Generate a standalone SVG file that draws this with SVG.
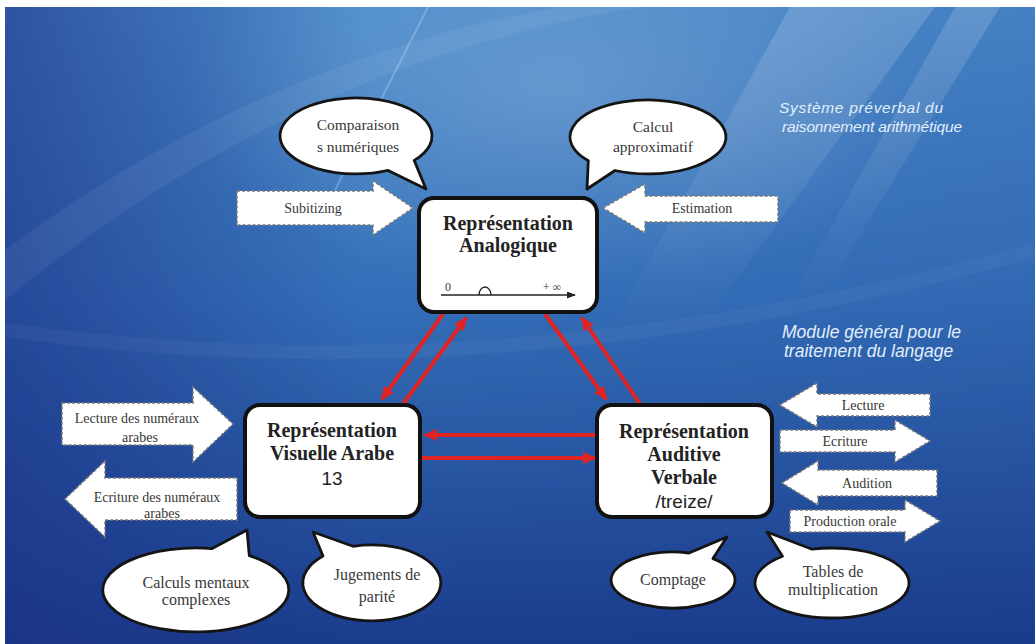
<svg xmlns="http://www.w3.org/2000/svg" width="1035" height="644" viewBox="0 0 1035 644">
<defs>
  <linearGradient id="bg" x1="0" y1="0" x2="0" y2="1">
    <stop offset="0" stop-color="#4a8bcb"/>
    <stop offset="0.45" stop-color="#3470b9"/>
    <stop offset="1" stop-color="#1a3c8c"/>
  </linearGradient>
  <linearGradient id="bgl" x1="0" y1="0" x2="1" y2="0">
    <stop offset="0" stop-color="#1c2f85" stop-opacity="0.6"/>
    <stop offset="0.35" stop-color="#1c2f85" stop-opacity="0"/>
    <stop offset="1" stop-color="#1c2f85" stop-opacity="0.12"/>
  </linearGradient>
  <radialGradient id="glow" cx="0.5" cy="0.5" r="0.5">
    <stop offset="0" stop-color="#ffffff" stop-opacity="0.18"/>
    <stop offset="1" stop-color="#ffffff" stop-opacity="0"/>
  </radialGradient>
  <linearGradient id="wedge" x1="0" y1="0" x2="0" y2="1">
    <stop offset="0" stop-color="#ffffff" stop-opacity="0.16"/>
    <stop offset="1" stop-color="#ffffff" stop-opacity="0"/>
  </linearGradient>
  <marker id="rh" markerUnits="userSpaceOnUse" markerWidth="14" markerHeight="12" refX="12" refY="6" orient="auto">
    <path d="M0,0 L14,6 L0,12 z" fill="#e02424"/>
  </marker>
  <marker id="bh" markerUnits="userSpaceOnUse" markerWidth="9" markerHeight="7" refX="8" refY="3.5" orient="auto">
    <path d="M0,0 L9,3.5 L0,7 z" fill="#222"/>
  </marker>
</defs>
<style>
  .box{fill:#fff;stroke:#111;stroke-width:4}
  .bub{fill:#fff;stroke:#141414;stroke-width:2.8;stroke-linejoin:round}
  .da{fill:#fff;stroke:#7a7a7a;stroke-width:1.5;stroke-dasharray:3 2}
  .t{font-family:"Liberation Serif",serif;fill:#383838;text-anchor:middle}
  .bt{font-size:15.5px}
  .at{font-size:14px}
  .ti{font-family:"Liberation Serif",serif;font-weight:bold;font-size:20px;fill:#232323;text-anchor:middle}
  .sn{font-family:"Liberation Sans",sans-serif;font-size:19px;fill:#232323;text-anchor:middle}
  .wi{font-family:"Liberation Sans",sans-serif;font-style:italic;font-size:15.5px;fill:#e2eefa}
  .wm{font-size:17.5px}
  .red{stroke:#e02424;stroke-width:4;fill:none;marker-end:url(#rh)}
</style>

<!-- background -->
<rect x="0" y="0" width="1035" height="644" fill="#ffffff"/>
<rect x="5" y="7" width="1030" height="637" fill="url(#bg)"/>
<rect x="5" y="7" width="1030" height="637" fill="url(#bgl)"/>
<ellipse cx="560" cy="90" rx="380" ry="200" fill="url(#glow)"/>
<polygon points="790,7 935,7 700,330 610,330" fill="url(#wedge)"/>
<polygon points="955,7 1000,7 820,300 790,300" fill="url(#wedge)"/>
<line x1="428" y1="7" x2="330" y2="200" stroke="#ffffff" stroke-opacity="0.22" stroke-width="2"/>
<path d="M5,300 Q300,60 640,7 L560,7 Q260,60 5,250 Z" fill="#ffffff" fill-opacity="0.06"/>
<path d="M5,330 Q500,400 1035,250" fill="none" stroke="#ffffff" stroke-opacity="0.04" stroke-width="14"/>

<!-- captions -->
<g id="caption-preverbal">
  <text class="wi" x="779" y="113" textLength="164">Système préverbal du</text>
  <text class="wi" x="782" y="132" textLength="180">raisonnement arithmétique</text>
</g>
<g id="caption-module">
  <text class="wi wm" x="782" y="338">Module général pour le</text>
  <text class="wi wm" x="784" y="357">traitement du langage</text>
</g>

<!-- connectors -->
<g id="connectors">
  <line class="red" x1="443" y1="314" x2="382" y2="399"/>
  <line class="red" x1="403" y1="404" x2="466" y2="318"/>
  <line class="red" x1="545" y1="314" x2="606" y2="399"/>
  <line class="red" x1="640" y1="404" x2="582" y2="318"/>
  <line class="red" x1="597" y1="435" x2="425" y2="435"/>
  <line class="red" x1="421" y1="458" x2="595" y2="458"/>
</g>

<!-- main nodes -->
<g id="node-analogique">
  <rect class="box" x="419" y="198" width="178" height="114" rx="15"/>
  <text class="ti" x="508" y="230">Représentation</text>
  <text class="ti" x="508" y="252">Analogique</text>
  <line x1="441" y1="295" x2="575" y2="295" stroke="#222" stroke-width="1.5" marker-end="url(#bh)"/>
  <text class="t" x="448" y="291" font-size="12">0</text>
  <path d="M479,295 A6 8 0 0 1 491,295" fill="none" stroke="#222" stroke-width="1.3"/>
  <text class="t" x="552" y="291" font-size="12">+ ∞</text>
</g>
<g id="node-visuelle">
  <rect class="box" x="245" y="405" width="175" height="112" rx="15"/>
  <text class="ti" x="332" y="437">Représentation</text>
  <text class="ti" x="332" y="460">Visuelle Arabe</text>
  <text class="sn" x="332" y="485">13</text>
</g>
<g id="node-auditive">
  <rect class="box" x="597" y="405" width="175" height="112" rx="15"/>
  <text class="ti" x="684" y="438">Représentation</text>
  <text class="ti" x="684" y="461">Auditive</text>
  <text class="ti" x="684" y="484">Verbale</text>
  <text class="sn" x="684" y="508">/treize/</text>
</g>

<!-- speech bubbles -->
<g id="bubble-comparaisons">
  <path class="bub" d="M414.2,160.4 L426,189 L388.1,170.4 A76 38 0 1 1 414.2,160.4 Z"/>
  <text class="t bt" x="358" y="130">Comparaison</text>
  <text class="t bt" x="358" y="152">s numériques</text>
</g>
<g id="bubble-calcul-approx">
  <path class="bub" d="M615,170.5 L587,189 L588.3,160.8 A78 37 0 1 1 615,170.5 Z"/>
  <text class="t bt" x="653" y="132">Calcul</text>
  <text class="t bt" x="653" y="152">approximatif</text>
</g>
<g id="bubble-calculs-mentaux">
  <path class="bub" d="M212.1,548.6 L247,530 L249.3,555.6 A93 42 0 1 1 212.1,548.6 Z"/>
  <text class="t" x="196" y="588" font-size="16">Calculs mentaux</text>
  <text class="t" x="196" y="605" font-size="16">complexes</text>
</g>
<g id="bubble-parite">
  <path class="bub" d="M323,556 L313,532 L353,546.3 A69 38 0 1 1 323,556 Z"/>
  <text class="t" x="377" y="580" font-size="16">Jugements de</text>
  <text class="t" x="377" y="602" font-size="16">parité</text>
</g>
<g id="bubble-comptage">
  <path class="bub" d="M689,553 L727,537 L712.9,558.6 A62 28 0 1 1 689,553 Z"/>
  <text class="t" x="673" y="585" font-size="16">Comptage</text>
</g>
<g id="bubble-tables">
  <path class="bub" d="M782.5,556.2 L767,532 L812.1,549.2 A77 35 0 1 1 782.5,556.2 Z"/>
  <text class="t" x="833" y="577" font-size="16">Tables de</text>
  <text class="t" x="833" y="595" font-size="16">multiplication</text>
</g>

<!-- block arrows -->
<g id="arrow-subitizing">
  <polygon class="da" points="237,191 373,191 373,181 413,208 373,235 373,225 237,225"/>
  <text class="t at" x="313" y="213">Subitizing</text>
</g>
<g id="arrow-estimation">
  <polygon class="da" points="603,208 645,184 645,196 778,196 778,222 645,222 645,233"/>
  <text class="t at" x="702" y="213">Estimation</text>
</g>
<g id="arrow-lecture-num">
  <polygon class="da" points="62,403 193,403 193,387 233,424 193,462 193,445 62,445"/>
  <text class="t at" x="137" y="423">Lecture des numéraux</text>
  <text class="t at" x="140" y="442">arabes</text>
</g>
<g id="arrow-ecriture-num">
  <polygon class="da" points="65,499 105,461 105,478 237,478 237,520 105,520 105,537"/>
  <text class="t at" x="157" y="502">Ecriture des numéraux</text>
  <text class="t at" x="162" y="518">arabes</text>
</g>
<g id="arrow-lecture">
  <polygon class="da" points="780,405 817,383 817,394 930,394 930,416 817,416 817,427"/>
  <text class="t at" x="863" y="410">Lecture</text>
</g>
<g id="arrow-ecriture">
  <polygon class="da" points="780,430 895,430 895,420 930,441 895,462 895,452 780,452"/>
  <text class="t at" x="845" y="446">Ecriture</text>
</g>
<g id="arrow-audition">
  <polygon class="da" points="782,483 818,461 818,470 937,470 937,496 818,496 818,505"/>
  <text class="t at" x="867" y="488">Audition</text>
</g>
<g id="arrow-production">
  <polygon class="da" points="790,510 905,510 905,500 940,521 905,542 905,532 790,532"/>
  <text class="t at" x="850" y="526">Production orale</text>
</g>
</svg>
